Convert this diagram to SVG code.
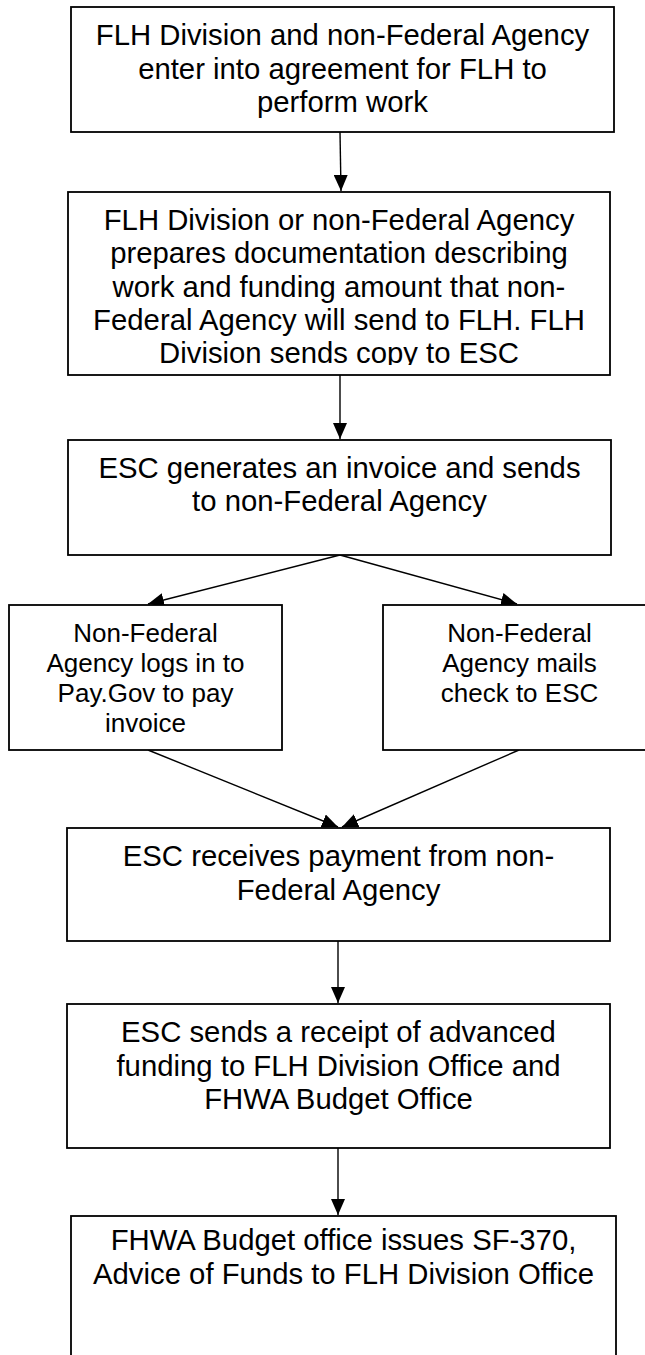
<svg xmlns="http://www.w3.org/2000/svg" width="645" height="1355" viewBox="0 0 645 1355">
<style>
.box{fill:#fff;stroke:#000;stroke-width:1.8}
.t{font-family:"Liberation Sans",Arial,sans-serif;font-size:29.3px;fill:#000;text-anchor:middle}
.s{font-family:"Liberation Sans",Arial,sans-serif;font-size:26px;fill:#000;text-anchor:middle}
.c{stroke:#000;stroke-width:1.4;fill:none;marker-end:url(#ah)}
</style>
<defs>
<marker id="ah" markerUnits="userSpaceOnUse" markerWidth="16" markerHeight="14" refX="16" refY="7" orient="auto">
<path d="M0,0 L16,7 L0,14 z" fill="#000"/>
</marker>
<clipPath id="clip2"><rect x="68" y="192" width="542" height="173"/></clipPath>
</defs>
<rect width="645" height="1355" fill="#fff"/>
<g id="connectors">
<line class="c" x1="340" y1="132" x2="341" y2="191"/>
<line class="c" x1="340" y1="375" x2="340" y2="439"/>
<line class="c" x1="340" y1="555" x2="148" y2="604"/>
<line class="c" x1="340" y1="555" x2="517" y2="604"/>
<line class="c" x1="148" y1="750" x2="338" y2="827"/>
<line class="c" x1="519" y1="750" x2="342" y2="827"/>
<line class="c" x1="338" y1="941" x2="338" y2="1003"/>
<line class="c" x1="338" y1="1148" x2="338" y2="1215"/>
</g>
<g id="n1">
<rect class="box" x="71" y="7" width="543" height="125"/>
<text class="t" x="342.5" y="45">FLH Division and non-Federal Agency</text>
<text class="t" x="342.5" y="78.5">enter into agreement for FLH to</text>
<text class="t" x="342.5" y="112">perform work</text>
</g>
<g id="n2">
<rect class="box" x="68" y="192" width="542" height="183"/>
<g clip-path="url(#clip2)">
<text class="t" x="339" y="230">FLH Division or non-Federal Agency</text>
<text class="t" x="339" y="263.3">prepares documentation describing</text>
<text class="t" x="339" y="296.6">work and funding amount that non-</text>
<text class="t" x="339" y="330">Federal Agency will send to FLH. FLH</text>
<text class="t" x="339" y="363.3">Division sends copy to ESC</text>
</g>
</g>
<g id="n3">
<rect class="box" x="68" y="440" width="543" height="115"/>
<text class="t" x="339.5" y="478">ESC generates an invoice and sends</text>
<text class="t" x="339.5" y="511">to non-Federal Agency</text>
</g>
<g id="n4">
<rect class="box" x="9" y="605" width="273" height="145"/>
<text class="s" x="145.5" y="642">Non-Federal</text>
<text class="s" x="145.5" y="672">Agency logs in to</text>
<text class="s" x="145.5" y="702">Pay.Gov to pay</text>
<text class="s" x="145.5" y="732">invoice</text>
</g>
<g id="n5">
<rect class="box" x="383" y="605" width="273" height="145"/>
<text class="s" x="519.5" y="642">Non-Federal</text>
<text class="s" x="519.5" y="672">Agency mails</text>
<text class="s" x="519.5" y="702">check to ESC</text>
</g>
<g id="n6">
<rect class="box" x="67" y="828" width="543" height="113"/>
<text class="t" x="338.5" y="866">ESC receives payment from non-</text>
<text class="t" x="338.5" y="900">Federal Agency</text>
</g>
<g id="n7">
<rect class="box" x="67" y="1004" width="543" height="144"/>
<text class="t" x="338.5" y="1042">ESC sends a receipt of advanced</text>
<text class="t" x="338.5" y="1075.5">funding to FLH Division Office and</text>
<text class="t" x="338.5" y="1109">FHWA Budget Office</text>
</g>
<g id="n8">
<rect class="box" x="71" y="1216" width="545" height="160"/>
<text class="t" x="343.5" y="1250">FHWA Budget office issues SF-370,</text>
<text class="t" x="343.5" y="1284">Advice of Funds to FLH Division Office</text>
</g>
</svg>
